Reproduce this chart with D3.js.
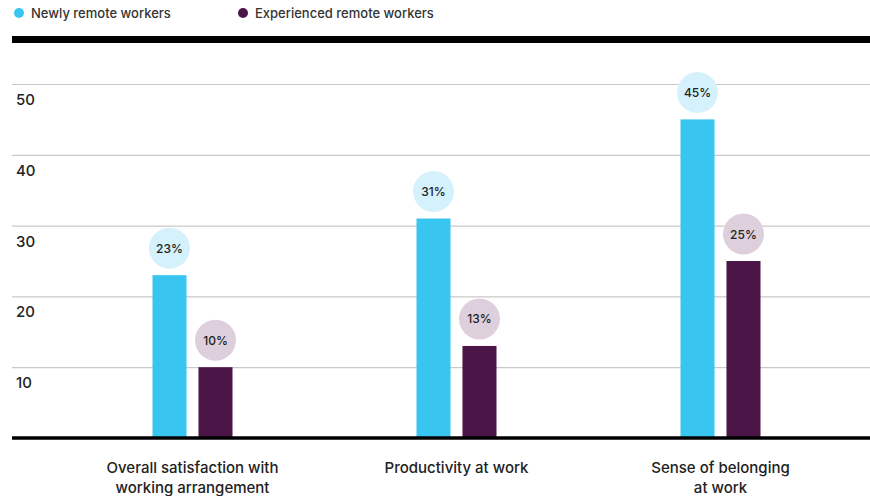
<!DOCTYPE html>
<html>
<head>
<meta charset="utf-8">
<script src="https://cdn.jsdelivr.net/npm/d3@7"></script>
<style>
  body { margin: 0; background: #fff; }
  text { font-family: Inter, "Noto Sans", sans-serif; }
</style>
</head>
<body>
<svg id="chart" width="870" height="496"></svg>
<script>
// data
var categories = [
  ["Overall satisfaction with", "working arrangement"],
  ["Productivity at work"],
  ["Sense of belonging", "at work"]
];
var seriesNames = ["Newly remote workers", "Experienced remote workers"];
var newlyRemote = [23, 31, 45];
var experiencedRemote = [10, 13, 25];
var yTicks = [10, 20, 30, 40, 50];

var barColors = ["#38c6f0", "#4b1547"];
var bubbleColors = ["#d5f1fb", "#ddd0dc"];

var svg = d3.select("#chart");
var left = 12, right = 870;
var baseY = 438;

var x = d3.scaleBand()
    .domain(d3.range(categories.length))
    .range([60.5, 852.5]);

var inner = d3.scaleBand()
    .domain([0, 1])
    .range([0, 80])
    .paddingInner(0.26);

var y = d3.scaleLinear()
    .domain([0, 50])
    .range([baseY, 84]);

// legend
var legend = svg.append("g");
var legendX = [19, 243];
seriesNames.forEach(function(name, i) {
  legend.append("circle")
      .attr("cx", legendX[i]).attr("cy", 13).attr("r", 5)
      .attr("fill", barColors[i]);
  legend.append("text")
      .attr("x", legendX[i] + 12).attr("y", 17.5)
      .attr("font-size", 13).attr("font-weight", 500).attr("fill", "#333")
      .text(name);
});

// thick top rule
svg.append("rect")
    .attr("x", left).attr("y", 36)
    .attr("width", right - left).attr("height", 7)
    .attr("fill", "#000");

// gridlines
svg.append("g")
    .attr("transform", "translate(" + left + ",0)")
    .call(d3.axisLeft(y).tickValues(yTicks).tickSize(-(right - left)).tickFormat(""))
    .call(function(g) {
      g.select(".domain").remove();
      g.selectAll(".tick line").attr("stroke", "#c9c9c9").attr("stroke-width", 1.2);
    });

// y labels below each gridline
svg.append("g").selectAll("text")
    .data(yTicks)
    .join("text")
    .attr("x", 16)
    .attr("y", function(d) { return y(d) + 21; })
    .attr("font-size", 15)
    .attr("font-weight", 500)
    .attr("fill", "#222")
    .text(function(d) { return d; });

// bars
var series = [newlyRemote, experiencedRemote];
var groups = svg.append("g").selectAll("g")
    .data(categories)
    .join("g")
    .attr("transform", function(d, i) {
      return "translate(" + (x(i) + (x.bandwidth() - 80) / 2) + ",0)";
    });

groups.each(function(cat, ci) {
  var g = d3.select(this);
  series.forEach(function(vals, si) {
    var v = vals[ci];
    var bx = inner(si);
    var bw = inner.bandwidth();
    g.append("rect")
        .attr("x", bx).attr("y", y(v))
        .attr("width", bw).attr("height", baseY - y(v))
        .attr("fill", barColors[si]);
    g.append("circle")
        .attr("cx", bx + bw / 2).attr("cy", y(v) - 27).attr("r", 20.5)
        .attr("fill", bubbleColors[si]);
    g.append("text")
        .attr("x", bx + bw / 2).attr("y", y(v) - 22.5)
        .attr("text-anchor", "middle")
        .attr("font-size", 12).attr("font-weight", 500)
        .attr("fill", "#222")
        .text(v + "%");
  });
});

// baseline
svg.append("line")
    .attr("x1", left).attr("x2", right)
    .attr("y1", baseY).attr("y2", baseY)
    .attr("stroke", "#000").attr("stroke-width", 3.5);

// category labels
var labels = svg.append("g").selectAll("text")
    .data(categories)
    .join("text")
    .attr("text-anchor", "middle")
    .attr("font-size", 15)
    .attr("font-weight", 500)
    .attr("fill", "#222")
    .attr("transform", function(d, i) {
      return "translate(" + (x(i) + x.bandwidth() / 2) + ",473)";
    });
labels.selectAll("tspan")
    .data(function(d) { return d; })
    .join("tspan")
    .attr("x", 0)
    .attr("dy", function(d, i) { return i === 0 ? 0 : 20; })
    .text(function(d) { return d; });
</script>
</body>
</html>
